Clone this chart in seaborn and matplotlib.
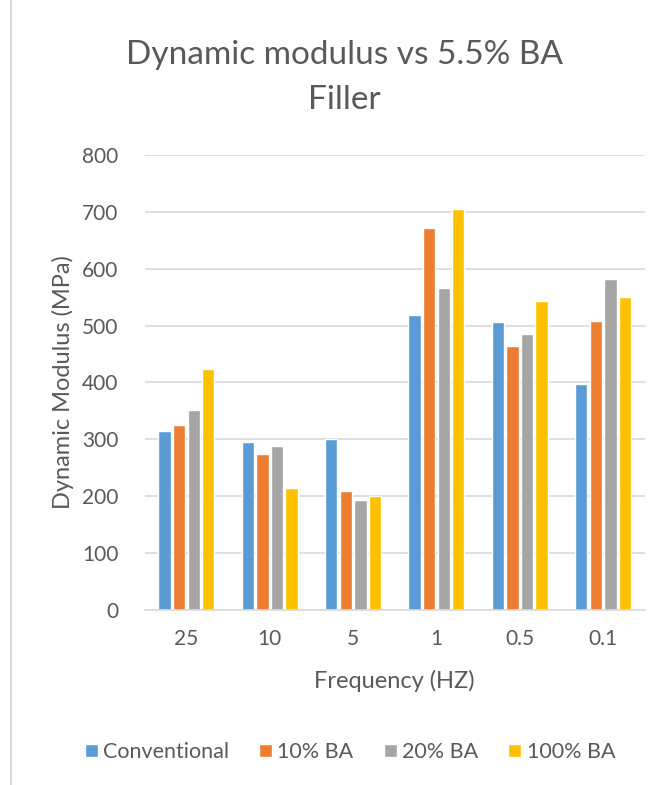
import matplotlib
matplotlib.use("Agg")
import matplotlib.pyplot as plt
import seaborn as sns
import pandas as pd

frequencies = ["25", "10", "5", "1", "0.5", "0.1"]
conventional = [314, 295, 300, 519, 507, 398]
ba_10 = [325, 274, 209, 671, 464, 508]
ba_20 = [352, 289, 194, 566, 486, 582]
ba_100 = [424, 215, 200, 705, 543, 551]
series_names = ["Conventional", "10% BA", "20% BA", "100% BA"]
palette = ["#5B9BD5", "#ED7D31", "#A5A5A5", "#FFC000"]
y_ticks = [0, 100, 200, 300, 400, 500, 600, 700, 800]

rows = []
for name, vals in zip(series_names, [conventional, ba_10, ba_20, ba_100]):
    for f, v in zip(frequencies, vals):
        rows.append({"Frequency": f, "Series": name, "Value": v})
df = pd.DataFrame(rows)

sns.set_theme(style="white")
plt.rcParams["font.family"] = ["Lato", "DejaVu Sans"]
text_color = "#595959"
grid_color = "#D9D9D9"

fig = plt.figure(figsize=(6.64, 7.85), dpi=100)
ax = fig.add_axes([0.218, 0.223, 0.753, 0.5796])

sns.barplot(data=df, x="Frequency", y="Value", hue="Series", order=frequencies,
            hue_order=series_names, palette=palette, width=0.7, gap=0.15,
            saturation=1, ax=ax, legend=True)

ax.set_ylim(0, 800)
ax.set_yticks(y_ticks)
ax.yaxis.grid(True, color=grid_color, linewidth=1.2)
ax.set_axisbelow(True)
for s in ["top", "right", "left"]:
    ax.spines[s].set_visible(False)
ax.spines["bottom"].set_color(grid_color)
ax.spines["bottom"].set_linewidth(1.2)
ax.tick_params(axis="both", length=0, labelsize=15, colors=text_color)
ax.tick_params(axis="y", pad=19)
ax.tick_params(axis="x", pad=14)

ax.set_xlabel("Frequency (HZ)", fontsize=17, color=text_color, labelpad=15)
ax.set_ylabel("Dynamic Modulus (MPa)", fontsize=17, color=text_color, labelpad=6)

fig.text(0.519, 0.93, "Dynamic modulus vs 5.5% BA", ha="center", va="center",
         fontsize=24, color=text_color)
fig.text(0.519, 0.872, "Filler", ha="center", va="center",
         fontsize=24, color=text_color)

handles, labels = ax.get_legend_handles_labels()
ax.legend_.remove()
fig.legend(handles, labels, loc="center", bbox_to_anchor=(0.527, 0.042), ncol=4,
           frameon=False, fontsize=15.5, labelcolor=text_color,
           handlelength=0.6, handleheight=0.6, handletextpad=0.25, columnspacing=1.4)

fig.add_artist(plt.Line2D([0.017, 0.017], [0, 1], transform=fig.transFigure,
                          color=grid_color, linewidth=1.5))

fig.savefig("out.png", dpi=100)
